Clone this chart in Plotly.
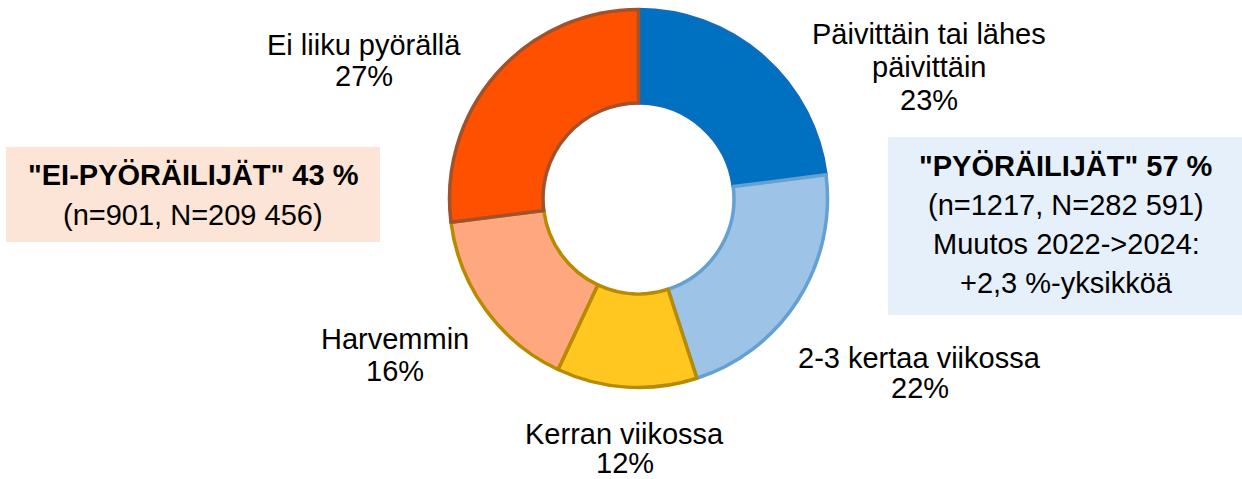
import plotly.graph_objects as go

categories = ["Päivittäin tai lähes päivittäin", "2-3 kertaa viikossa", "Kerran viikossa", "Harvemmin", "Ei liiku pyörällä"]
label_lines = [["Päivittäin tai lähes", "päivittäin"], ["2-3 kertaa viikossa"], ["Kerran viikossa"], ["Harvemmin"], ["Ei liiku pyörällä"]]
values = [23, 22, 12, 16, 27]
fill_colors = ["#0070C0", "#9DC3E6", "#FFC720", "#FFA880", "#FF5000"]
line_colors = ["#0A6DBE", "#64A0D2", "#B88A00", "#B88A00", "#A0522D"]
# x centre and y centre of each text line (label lines + percentage line)
label_x = [928.5, 919.5, 624.5, 395, 364]
label_y = [[34, 67, 100], [358, 388], [433.5, 463], [339, 371], [45, 76]]

cyclist_lines = ['<b>"PYÖRÄILIJÄT" 57 %</b>', "(n=1217, N=282 591)", "Muutos 2022->2024:", "+2,3 %-yksikköä"]
noncyclist_lines = ['<b>"EI-PYÖRÄILIJÄT" 43 %</b>', "(n=901, N=209 456)"]

W, H = 1242, 479
FONT = "Liberation Sans, Arial, sans-serif"
FS = 29

cx, cy, r = 638.5, 198.5, 189
fig = go.Figure(go.Pie(
    labels=categories, values=values, sort=False, direction="clockwise", rotation=0,
    hole=0.505, textinfo="none", hoverinfo="label+percent",
    marker=dict(colors=fill_colors, line=dict(color=line_colors, width=3.5)),
    domain=dict(x=[(cx - r) / W, (cx + r) / W], y=[(H - cy - r) / H, (H - cy + r) / H]),
    showlegend=False,
))

shapes = [
    dict(type="rect", xref="paper", yref="paper", x0=6 / W, x1=380 / W, y0=1 - 242 / H, y1=1 - 147 / H,
         fillcolor="#FCE4D6", line=dict(width=0), layer="below"),
    dict(type="rect", xref="paper", yref="paper", x0=888 / W, x1=1242 / W, y0=1 - 315 / H, y1=1 - 137 / H,
         fillcolor="#E6F0FA", line=dict(width=0), layer="below"),
]

def ann(text, x, y):
    return dict(text=text, x=x / W, y=1 - y / H, xref="paper", yref="paper",
                showarrow=False, xanchor="center", yanchor="middle",
                font=dict(family=FONT, size=FS, color="#000000"))

annotations = []
for lines, v, x, ys in zip(label_lines, values, label_x, label_y):
    for t, y in zip(lines + [f"{v}%"], ys):
        annotations.append(ann(t, x, y))

for t, y in zip(noncyclist_lines, [175, 215]):
    annotations.append(ann(t, 193, y))
for t, y in zip(cyclist_lines, [166, 205, 244, 283]):
    annotations.append(ann(t, 1066, y))

fig.update_layout(width=W, height=H, margin=dict(l=0, r=0, t=0, b=0),
                  paper_bgcolor="white", plot_bgcolor="white",
                  shapes=shapes, annotations=annotations)

fig.write_html("out.html", config={"displayModeBar": False},
               post_script="document.body.style.margin='0';document.body.style.padding='0';")
